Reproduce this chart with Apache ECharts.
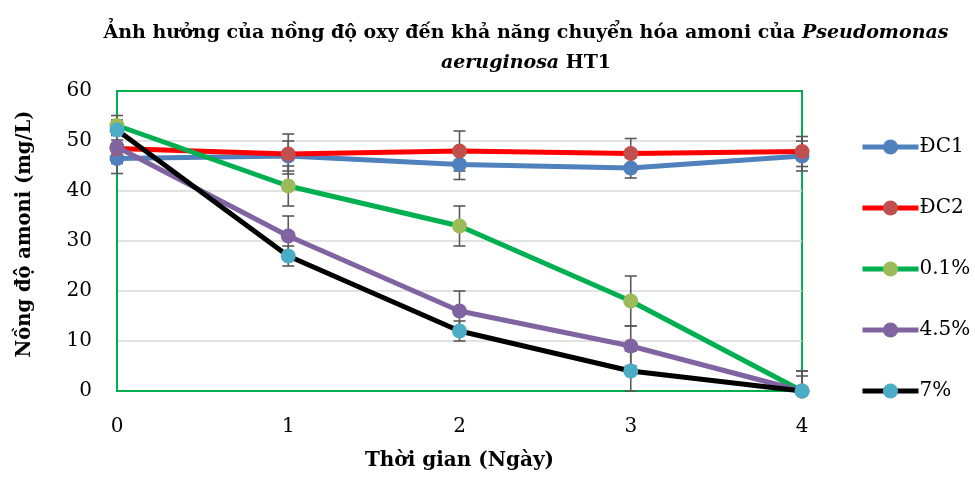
<!DOCTYPE html>
<html>
<head>
<meta charset="utf-8">
<script src="https://cdn.jsdelivr.net/npm/echarts@6/dist/echarts.min.js"></script>
<style>
  html, body { margin: 0; padding: 0; background: #fff; }
  #chart { width: 975px; height: 481px; }
</style>
</head>
<body>
<div id="chart"></div>
<script>
// số liệu
const days = [0, 1, 2, 3, 4];
const seriesNames = ['ĐC1', 'ĐC2', '0.1%', '4.5%', '7%'];
const dc1 = [46.5, 47, 45.3, 44.6, 47];
const dc2 = [48.5, 47.4, 48, 47.5, 47.9];
const o01 = [53.1, 41, 33, 18, 0];
const o45 = [48.8, 31, 16, 9, 0];
const o7 = [52.2, 27, 12, 4, 0];
// sai số (±)
const dc1Err = [3, 3, 3, 2, 3];
const dc2Err = [3, 4, 4, 3, 3];
const o01Err = [2, 4, 4, 5, 4];
const o45Err = [3, 4, 4, 4, 3];
const o7Err = [2, 2, 2, 4, 4];
const yTicks = [0, 10, 20, 30, 40, 50, 60];

const FONT = '"DejaVu Serif", "Liberation Serif", serif';

const lineColors = ['#4f81bd', '#ff0000', '#00b050', '#8064a2', '#000000'];
const markerColors = ['#4f81bd', '#c0504d', '#9bbb59', '#8064a2', '#4bacc6'];
const values = [dc1, dc2, o01, o45, o7];
const errors = [dc1Err, dc2Err, o01Err, o45Err, o7Err];

const chart = echarts.init(document.getElementById('chart'));

const lineSeries = seriesNames.map((name, i) => ({
    name: name,
    type: 'line',
    data: days.map((d, j) => [d, values[i][j]]),
    symbol: 'circle',
    symbolSize: 15,
    lineStyle: { color: lineColors[i], width: 5 },
    itemStyle: { color: markerColors[i] },
    z: 3 + i
}));

// thanh sai số
const errorSeries = seriesNames.map((name, i) => ({
    type: 'custom',
    name: name + '_err',
    data: days.map((d, j) => [d, values[i][j], errors[i][j]]),
    z: 2,
    silent: true,
    renderItem: function (params, api) {
        const x = api.value(0), y = api.value(1), e = api.value(2);
        const hi = api.coord([x, y + e]);
        const lo = api.coord([x, Math.max(0, y - e)]);
        const cap = 6;
        const style = { stroke: '#595959', lineWidth: 1.6 };
        return {
            type: 'group',
            children: [
                { type: 'line', shape: { x1: hi[0], y1: hi[1], x2: lo[0], y2: lo[1] }, style: style },
                { type: 'line', shape: { x1: hi[0] - cap, y1: hi[1], x2: hi[0] + cap, y2: hi[1] }, style: style },
                { type: 'line', shape: { x1: lo[0] - cap, y1: lo[1], x2: lo[0] + cap, y2: lo[1] }, style: style }
            ]
        };
    }
}));

chart.setOption({
    animation: false,
    backgroundColor: '#fff',
    title: {
        text: '{b|Ảnh hưởng của nồng độ oxy đến khả năng chuyển hóa amoni của }{i|Pseudomonas}\n{i|aeruginosa}{b| HT1}',
        left: 521,
        top: 13,
        textAlign: 'center',
        textStyle: {
            rich: {
                b: { fontFamily: FONT, fontWeight: 'bold', fontSize: 19, color: '#000', lineHeight: 30 },
                i: { fontFamily: FONT, fontWeight: 'bold', fontStyle: 'italic', fontSize: 19, color: '#000', lineHeight: 30 }
            }
        }
    },
    legend: {
        orient: 'vertical',
        left: 860,
        top: 137,
        padding: 0,
        itemWidth: 56,
        itemHeight: 19,
        itemGap: 41,
        data: seriesNames,
        lineStyle: { width: 5 },
        textStyle: { fontFamily: FONT, fontSize: 20, color: '#000', padding: [0, 0, 0, -4] }
    },
    grid: {
        left: 117, right: 173, top: 91, bottom: 90,
        show: true,
        borderColor: '#00b050',
        borderWidth: 2
    },
    xAxis: {
        type: 'value',
        min: 0, max: 4, interval: 1,
        name: 'Thời gian (Ngày)',
        nameLocation: 'middle',
        nameGap: 60,
        nameTextStyle: { fontFamily: FONT, fontWeight: 'bold', fontSize: 20, color: '#000' },
        axisLine: { show: true, lineStyle: { color: '#00b050', width: 2 } },
        axisTick: { show: false },
        splitLine: { show: false },
        axisLabel: { fontFamily: FONT, fontSize: 20, color: '#000', margin: 26 }
    },
    yAxis: {
        type: 'value',
        min: yTicks[0], max: yTicks[yTicks.length - 1], interval: 10,
        name: 'Nồng độ amoni (mg/L)',
        nameLocation: 'middle',
        nameGap: 82,
        nameTextStyle: { fontFamily: FONT, fontWeight: 'bold', fontSize: 19.5, color: '#000', padding: [0, 0, 0, 14] },
        axisLine: { show: true, lineStyle: { color: '#00b050', width: 2 } },
        axisTick: { show: false },
        splitLine: { show: true, showMaxLine: false, showMinLine: false, lineStyle: { color: '#d9d9d9', width: 1.5 } },
        axisLabel: { fontFamily: FONT, fontSize: 20, color: '#000', margin: 25 }
    },
    series: errorSeries.concat(lineSeries)
});
</script>
</body>
</html>
